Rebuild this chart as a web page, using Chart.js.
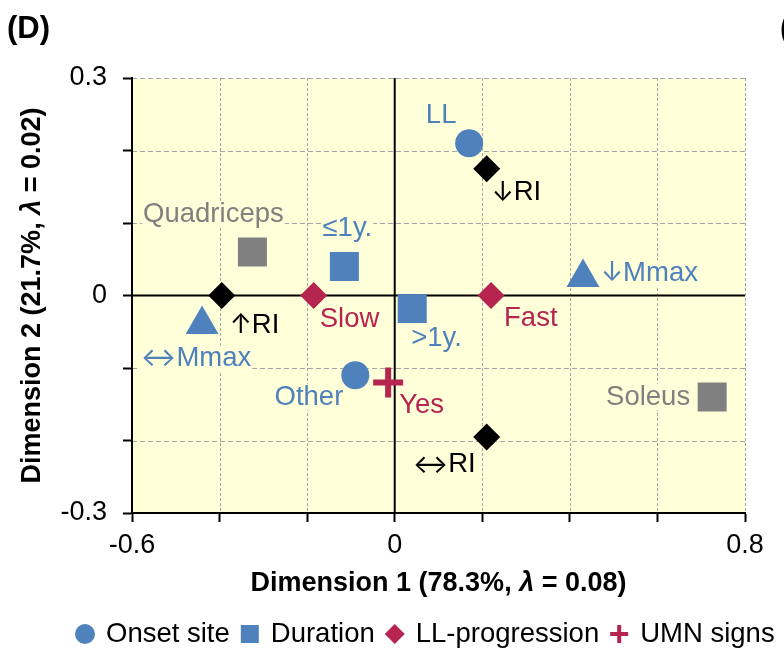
<!DOCTYPE html>
<html>
<head>
<meta charset="utf-8">
<script src="https://cdn.jsdelivr.net/npm/chart.js@4.4.0/dist/chart.umd.min.js"></script>
<style>
  html, body { margin: 0; padding: 0; background: #fff; }
  #wrap { width: 784px; height: 650px; position: relative; }
</style>
</head>
<body>
<div id="wrap"><canvas id="c"></canvas></div>
<script>
// category coordinates: dimension 1 (x), dimension 2 (y)
const onsetNames = ['LL', 'Other'];
const onsetX = [0.17, -0.09];
const onsetY = [0.21, -0.11];

const durationNames = ['≤1y.', '>1y.'];
const durationX = [-0.115, 0.04];
const durationY = [0.04, -0.018];

const muscleNames = ['Quadriceps', 'Soleus'];
const muscleX = [-0.325, 0.725];
const muscleY = [0.06, -0.14];

const mmaxNames = ['↓Mmax', '↔Mmax'];
const mmaxX = [0.43, -0.44];
const mmaxY = [0.025, -0.04];

const riNames = ['↑RI', '↓RI', '↔RI'];
const riX = [-0.395, 0.21, 0.21];
const riY = [0.0, 0.175, -0.195];

const progNames = ['Slow', 'Fast'];
const progX = [-0.185, 0.22];
const progY = [0.0, 0.0];

const umnNames = ['Yes'];
const umnX = [-0.015];
const umnY = [-0.12];

const xTickLabels = [-0.6, 0, 0.8];
const yTickLabels = [-0.3, 0, 0.3];

const xTitleParts = [['Dimension 1 (78.3%, ', 'bold'], ['λ', 'italic bold'], [' = 0.08)', 'bold']];
const yTitleParts = [['Dimension 2 (21.7%, ', 'bold'], ['λ', 'italic bold'], [' = 0.02)', 'bold']];

const family = '"Liberation Sans", Arial, Helvetica, sans-serif';
const arrowFamily = 'Inter, "DejaVu Sans", sans-serif';
const blue = '#4f81bd', crimson = '#b52550', gray = '#808080', black = '#000000';
const plotFill = '#ffffd9';

// label offset from its marker in px, and text alignment
const labelPlacement = {
  'LL': [-28, -28, 'center'],
  'Other': [-12, 22, 'right'],
  '≤1y.': [3, -38, 'center'],
  '>1y.': [-1, 30, 'left'],
  'Quadriceps': [-39, -38, 'center'],
  'Soleus': [-22, 0, 'right'],
  '↓Mmax': [18, -4, 'left'],
  '↔Mmax': [-6, 34, 'center'],
  '↑RI': [8, 30, 'left'],
  '↓RI': [5, 24, 'left'],
  '↔RI': [-11, 28, 'right'],
  'Slow': [6, 24, 'left'],
  'Fast': [13, 23, 'left'],
  'Yes': [11, 23, 'left']
};

function points(xs, ys, names) {
  return xs.map((v, i) => ({ x: v, y: ys[i], name: names[i] }));
}

const sameVal = (a, b) => Math.abs(a - b) < 1e-9;
const fmt = v => String(Number(v.toFixed(1)));

const datasets = [
  { label: 'Onset site', data: points(onsetX, onsetY, onsetNames), pointStyle: 'circle', pointRadius: 14,
    backgroundColor: blue, borderColor: blue, borderWidth: 0, textColor: blue, legend: [10, 0] },
  { label: 'Duration', data: points(durationX, durationY, durationNames), pointStyle: 'rect', pointRadius: 20.5,
    backgroundColor: blue, borderColor: blue, borderWidth: 0, textColor: blue, legend: [12.7, 0] },
  { label: 'Muscle', data: points(muscleX, muscleY, muscleNames), pointStyle: 'rect', pointRadius: 20.5,
    backgroundColor: gray, borderColor: gray, borderWidth: 0, textColor: gray },
  { label: 'Mmax', data: points(mmaxX, mmaxY, mmaxNames), pointStyle: 'triangle', pointRadius: 19,
    backgroundColor: blue, borderColor: blue, borderWidth: 0, textColor: blue },
  { label: 'RI', data: points(riX, riY, riNames), pointStyle: 'rectRot', pointRadius: 13.5,
    backgroundColor: black, borderColor: black, borderWidth: 0, textColor: black },
  { label: 'LL-progression', data: points(progX, progY, progNames), pointStyle: 'rectRot', pointRadius: 13.5,
    backgroundColor: crimson, borderColor: crimson, borderWidth: 0, textColor: crimson, legend: [10, 0] },
  { label: 'UMN signs', data: points(umnX, umnY, umnNames), pointStyle: 'cross', pointRadius: 15,
    backgroundColor: crimson, borderColor: crimson, borderWidth: 6, textColor: crimson, legend: [9, 4] }
];

function drawRich(ctx, parts, cx, cy, size) {
  let total = 0;
  parts.forEach(p => { ctx.font = p[1] + ' ' + size + 'px ' + family; total += ctx.measureText(p[0]).width; });
  let px = cx - total / 2;
  ctx.textAlign = 'left';
  ctx.textBaseline = 'middle';
  parts.forEach(p => {
    ctx.font = p[1] + ' ' + size + 'px ' + family;
    ctx.fillText(p[0], px, cy);
    px += ctx.measureText(p[0]).width;
  });
}

// split a label into [text, font] runs so the arrows get a font with full-height arrows
function labelRuns(name, size) {
  const m = name.match(/^([↑↓↔])(.*)$/);
  if (!m) return [[name, size + 'px ' + family]];
  return [[m[1], (size - 1) + 'px ' + arrowFamily], [m[2], size + 'px ' + family]];
}

const decor = {
  id: 'decor',
  beforeDraw(chart) {
    const { ctx, chartArea: a, scales: { x, y } } = chart;
    ctx.save();
    ctx.fillStyle = plotFill;
    ctx.fillRect(a.left, a.top, a.right - a.left, a.bottom - a.top);
    ctx.lineWidth = 1;
    ctx.strokeStyle = '#a6a6a6';
    ctx.setLineDash([5, 3]);
    y.ticks.forEach(t => {
      if (sameVal(t.value, 0)) return;
      const py = Math.round(y.getPixelForValue(t.value)) + 0.5;
      ctx.beginPath(); ctx.moveTo(a.left, py); ctx.lineTo(a.right, py); ctx.stroke();
    });
    ctx.setLineDash([3, 2]);
    x.ticks.forEach(t => {
      if (sameVal(t.value, 0)) return;
      const px = Math.round(x.getPixelForValue(t.value)) + 0.5;
      ctx.beginPath(); ctx.moveTo(px, a.top); ctx.lineTo(px, a.bottom); ctx.stroke();
    });
    ctx.setLineDash([]);
    ctx.strokeStyle = '#000';
    ctx.lineWidth = 2;
    const x0 = x.getPixelForValue(0), y0 = y.getPixelForValue(0);
    ctx.beginPath();
    ctx.moveTo(x0, a.top); ctx.lineTo(x0, a.bottom);
    ctx.moveTo(a.left, y0); ctx.lineTo(a.right, y0);
    ctx.stroke();
    ctx.restore();
  },
  beforeDatasetsDraw(chart) {
    // category labels, with a box in the plot colour behind them
    const ctx = chart.ctx;
    ctx.save();
    ctx.textBaseline = 'middle';
    ctx.textAlign = 'left';
    chart.data.datasets.forEach((ds, i) => {
      const meta = chart.getDatasetMeta(i);
      meta.data.forEach((el, j) => {
        const name = ds.data[j].name;
        const pl = labelPlacement[name] || [0, -25, 'center'];
        const tx = el.x + pl[0], ty = el.y + pl[1];
        const runs = labelRuns(name, 27.5);
        let w = 0;
        runs.forEach(r => { ctx.font = r[1]; w += ctx.measureText(r[0]).width; });
        let left = tx;
        if (pl[2] === 'center') left = tx - w / 2;
        if (pl[2] === 'right') left = tx - w;
        ctx.fillStyle = plotFill;
        ctx.fillRect(left - 1, ty - 13, w + 2, 26);
        ctx.fillStyle = ds.textColor;
        let px = left;
        runs.forEach(r => {
          ctx.font = r[1];
          ctx.fillText(r[0], px, ty);
          px += ctx.measureText(r[0]).width;
        });
      });
    });
    ctx.restore();
  },
  afterDraw(chart) {
    const { ctx, chartArea: a } = chart;
    ctx.save();
    ctx.fillStyle = '#000';
    // panel letters
    ctx.font = 'bold 31px ' + family;
    ctx.textBaseline = 'middle';
    ctx.textAlign = 'left';
    ctx.fillText('(D)', 7, 29);
    ctx.fillText('(E)', 780, 29);
    // axis titles
    drawRich(ctx, xTitleParts, (a.left + a.right) / 2, 584, 27);
    ctx.save();
    ctx.translate(33, (a.top + a.bottom) / 2);
    ctx.rotate(-Math.PI / 2);
    drawRich(ctx, yTitleParts, 0, 0, 27);
    ctx.restore();
    // legend
    let lx = 75;
    const ly = 634;
    chart.data.datasets.filter(d => d.legend).forEach(d => {
      ctx.fillStyle = d.backgroundColor;
      ctx.strokeStyle = d.borderColor;
      ctx.lineWidth = d.legend[1];
      Chart.helpers.drawPoint(ctx, { pointStyle: d.pointStyle, radius: d.legend[0], borderWidth: d.legend[1], rotation: 0 }, lx + 10, ly);
      ctx.fillStyle = '#000';
      ctx.font = '27.5px ' + family;
      ctx.textAlign = 'left';
      ctx.textBaseline = 'middle';
      ctx.fillText(d.label, lx + 31, ly);
      lx += 31 + ctx.measureText(d.label).width + 10;
    });
    ctx.restore();
  }
};

Chart.defaults.font.family = family;

new Chart(document.getElementById('c'), {
  type: 'scatter',
  data: { datasets: datasets },
  options: {
    responsive: true,
    maintainAspectRatio: false,
    animation: false,
    events: [],
    layout: { padding: { top: 78, right: 39, left: 0, bottom: 0 } },
    plugins: { legend: { display: false }, tooltip: { enabled: false } },
    scales: {
      x: {
        type: 'linear', min: -0.6, max: 0.8,
        afterFit: s => { s.height = 137; },
        ticks: {
          stepSize: 0.2, padding: 7, color: '#000', autoSkip: false, maxRotation: 0,
          font: { size: 27 },
          callback: v => xTickLabels.some(t => sameVal(t, v)) ? fmt(v) : ''
        },
        grid: { drawOnChartArea: false, drawTicks: true, tickLength: 9, tickColor: '#000', tickWidth: 2 },
        border: { color: '#000', width: 2 }
      },
      y: {
        type: 'linear', min: -0.3, max: 0.3,
        afterFit: s => { s.width = 132; },
        ticks: {
          stepSize: 0.1, padding: 16, color: '#000', autoSkip: false,
          font: { size: 27 },
          callback: v => yTickLabels.some(t => sameVal(t, v)) ? fmt(v) : ''
        },
        grid: { drawOnChartArea: false, drawTicks: true, tickLength: 9, tickColor: '#000', tickWidth: 2 },
        border: { color: '#000', width: 2 }
      }
    }
  },
  plugins: [decor]
});
</script>
</body>
</html>
